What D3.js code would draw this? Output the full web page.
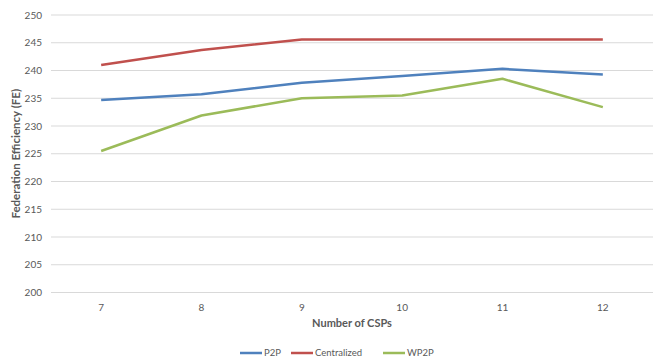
<!DOCTYPE html>
<html>
<head>
<meta charset="utf-8">
<script src="https://cdn.jsdelivr.net/npm/d3@7"></script>
<style>
  body { margin: 0; background: #fff; }
  svg { display: block; font-family: Lato, "Open Sans", sans-serif; }
</style>
</head>
<body>
<div id="chart"></div>
<script>
// data
const categories = ["7", "8", "9", "10", "11", "12"];
const p2p = [234.7, 235.7, 237.8, 239.0, 240.3, 239.3];
const centralized = [241.0, 243.7, 245.6, 245.6, 245.6, 245.6];
const wp2p = [225.5, 231.9, 235.0, 235.5, 238.5, 233.4];
const yTicks = [200, 205, 210, 215, 220, 225, 230, 235, 240, 245, 250];

const seriesList = [
  { name: "P2P", values: p2p, color: "#4F81BD" },
  { name: "Centralized", values: centralized, color: "#C0504D" },
  { name: "WP2P", values: wp2p, color: "#9BBB59" }
];

const width = 659, height = 358;
const margin = { top: 15, right: 6, bottom: 65.5, left: 51 };

const svg = d3.select("#chart").append("svg")
  .attr("width", width)
  .attr("height", height);

const x = d3.scaleBand()
  .domain(categories)
  .range([margin.left, width - margin.right]);

const y = d3.scaleLinear()
  .domain([200, 250])
  .range([height - margin.bottom, margin.top]);

// gridlines
svg.append("g")
  .selectAll("line")
  .data(yTicks)
  .join("line")
  .attr("x1", margin.left)
  .attr("x2", width - margin.right)
  .attr("y1", d => y(d))
  .attr("y2", d => y(d))
  .attr("stroke", "#d9d9d9")
  .attr("stroke-width", 1);

// y axis labels
svg.append("g")
  .selectAll("text")
  .data(yTicks)
  .join("text")
  .attr("x", 42)
  .attr("y", d => y(d))
  .attr("dy", "0.35em")
  .attr("text-anchor", "end")
  .attr("font-size", 10)
  .attr("fill", "#595959")
  .text(d => d);

// x axis labels
svg.append("g")
  .selectAll("text")
  .data(categories)
  .join("text")
  .attr("x", d => x(d) + x.bandwidth() / 2)
  .attr("y", 307)
  .attr("dy", "0.35em")
  .attr("text-anchor", "middle")
  .attr("font-size", 10)
  .attr("fill", "#595959")
  .text(d => d);

// axis titles
svg.append("text")
  .attr("x", 352)
  .attr("y", 323)
  .attr("dy", "0.35em")
  .attr("text-anchor", "middle")
  .attr("font-size", 11)
  .attr("font-weight", "bold")
  .attr("fill", "#595959")
  .text("Number of CSPs");

svg.append("text")
  .attr("transform", `translate(16,${(margin.top + height - margin.bottom) / 2}) rotate(-90)`)
  .attr("dy", "0.35em")
  .attr("text-anchor", "middle")
  .attr("font-size", 11.5)
  .attr("font-weight", "bold")
  .attr("fill", "#595959")
  .text("Federation Efficiency (FE)");

// lines
const line = d3.line()
  .x((d, i) => x(categories[i]) + x.bandwidth() / 2)
  .y(d => y(d));

svg.append("g")
  .selectAll("path")
  .data(seriesList)
  .join("path")
  .attr("fill", "none")
  .attr("stroke", d => d.color)
  .attr("stroke-width", 2.5)
  .attr("stroke-linejoin", "round")
  .attr("d", d => line(d.values));

// legend
const legendX = [240, 291, 383];
const legend = svg.append("g")
  .selectAll("g")
  .data(seriesList)
  .join("g")
  .attr("transform", (d, i) => `translate(${legendX[i]},353)`);

legend.append("line")
  .attr("x1", 0)
  .attr("x2", 22)
  .attr("stroke", d => d.color)
  .attr("stroke-width", 2.5);

legend.append("text")
  .attr("x", 24)
  .attr("dy", "0.35em")
  .attr("font-size", 9.5)
  .attr("fill", "#595959")
  .text(d => d.name);
</script>
</body>
</html>
